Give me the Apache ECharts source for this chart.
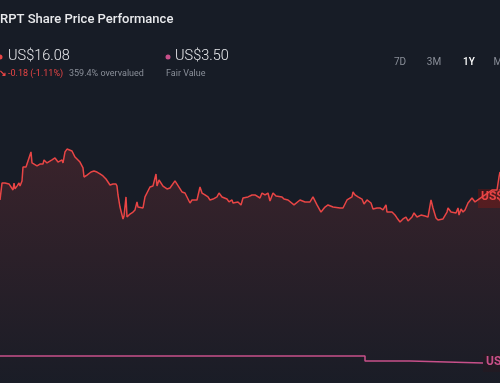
<!DOCTYPE html>
<html>
<head>
<meta charset="utf-8">
<script src="https://cdn.jsdelivr.net/npm/echarts@6/dist/echarts.min.js"></script>
<style>
html,body{margin:0;padding:0;background:#171c26;}
#c{width:500px;height:383px;}
</style>
</head>
<body>
<div id="c"></div>
<script>
// time index (relative trading time) and share price (US$)
const priceDays = [0,2,5,9,11,13,14,15,17,19,20,22,23,26,28,31,32,34,37,40,43,44,47,52,55,58,62,63,65,67,72,75,80,83,84,87,91,94,97,100,103,106,108,110,113,116,117,118,120,123,124,126,127,130,133,135,137,138,143,145,150,153,156,157,159,163,167,170,175,182,185,190,192,197,200,202,205,208,210,213,217,219,222,227,229,232,233,238,241,243,248,252,255,260,262,265,268,270,273,276,282,284,288,294,300,305,310,313,317,321,325,328,333,340,343,347,352,353,355,356,358,362,364,367,371,373,377,380,383,386,387,392,395,397,398,400,403,406,408,412,414,417,421,425,428,431,433,436,438,440,443,447,448,451,453,456,458,459,461,463,465,468,472,475,477,485,492,497,499,500];
const priceValues = [15.93,17.22,17.22,17.15,17.07,16.69,17.22,16.77,16.99,17.22,16.99,17.38,18.44,18.44,18.37,19.59,18.75,18.82,18.52,18.67,18.67,18.98,18.75,18.98,19.13,18.82,18.98,18.75,19.59,19.81,19.66,19.20,18.82,18.37,17.68,17.83,18.06,18.14,18.06,17.91,17.76,17.53,17.30,17.07,17.15,17.15,16.99,16.31,15.39,14.48,14.71,16.16,14.63,14.86,15.01,15.17,15.78,15.39,15.32,16.16,16.92,17.00,17.91,16.99,17.45,16.99,16.77,16.84,17.38,16.54,16.46,15.70,15.93,15.93,16.92,16.46,16.31,16.16,15.93,16.00,16.16,16.46,16.16,16.00,15.78,15.93,15.70,15.78,15.55,16.08,16.16,16.31,16.31,16.08,16.46,16.31,16.46,15.85,16.46,16.23,16.16,16.00,15.93,15.55,15.93,15.78,15.78,16.16,15.55,15.01,15.39,15.55,15.39,15.32,15.32,15.93,16.16,16.54,16.31,16.46,16.16,16.00,15.62,15.93,15.70,15.24,15.32,15.32,15.17,15.55,15.01,15.01,14.78,14.56,14.71,14.25,14.48,14.63,14.33,14.63,14.94,14.63,14.78,14.71,14.63,15.93,15.32,14.56,14.40,14.48,14.48,15.01,15.32,15.01,14.94,14.94,15.32,14.78,15.24,15.01,15.17,15.70,16.08,15.78,15.70,16.31,16.69,16.69,17.68,18.06];
// fair value estimate (US$)
const fairDays = [0,365,410,483];
const fairValues = [4.03,3.65,3.50,3.50];

const ticker = 'RPT';
const lastPrice = 'US$16.08';
const priceChange = '-0.18 (-1.11%)';
const valuation = '359.4% overvalued';
const fairValueText = 'US$3.50';
const periods = ['7D','3M','1Y','Max'];

const chart = echarts.init(document.getElementById('c'), null, {renderer:'canvas'});
const FONT = 'Roboto, "Noto Sans", sans-serif';
const periodX = [400,434,469,503];

const graphics = [
  {type:'text', left:0, top:13, style:{text: ticker + ' Share Price Performance', fill:'#e8e9ec', font:'500 13px ' + FONT}},
  {type:'circle', shape:{cx:0, cy:57, r:2.5}, style:{fill:'#e84545'}},
  {type:'text', left:8, top:49, style:{text:lastPrice, fill:'#e8e9ec', font:'300 14.5px ' + FONT}},
  {type:'text', left:-1, top:69, style:{text:'↘', fill:'#e84545', font:'bold 9px ' + FONT}},
  {type:'text', left:8, top:69, style:{text:priceChange, fill:'#e84545', font:'9px ' + FONT}},
  {type:'text', left:69, top:69, style:{text:valuation, fill:'#8a8f99', font:'9px ' + FONT}},
  {type:'circle', shape:{cx:168, cy:57, r:2.5}, style:{fill:'#c8508a'}},
  {type:'text', left:175, top:49, style:{text:fairValueText, fill:'#e8e9ec', font:'300 14.5px ' + FONT}},
  {type:'text', left:166, top:69, style:{text:'Fair Value', fill:'#8a8f99', font:'9px ' + FONT}},
  {type:'rect', shape:{x:478, y:189, width:30, height:19}, style:{fill:'rgba(70,22,26,0.85)'}},
  {type:'text', left:481, top:191, style:{text:lastPrice, fill:'#e84545', font:'bold 12px ' + FONT}},
  {type:'rect', shape:{x:483, y:354, width:30, height:18}, style:{fill:'#1d1922'}},
  {type:'text', left:486, top:356, style:{text:fairValueText, fill:'#c8508a', font:'bold 12px ' + FONT}}
];
periods.forEach((p,i)=>{
  graphics.push({type:'text', x:periodX[i], y:57, style:{text:p, fill: p==='1Y' ? '#ffffff' : '#8a8f99', font:(p==='1Y'?'500 ':'')+'10px ' + FONT, align:'center'}});
});

chart.setOption({
  backgroundColor:'#171c26',
  animation:false,
  grid:{left:0, right:0, top:0, bottom:0},
  xAxis:{type:'value', min:0, max:500, show:false},
  yAxis:{type:'value', min:1.98, max:31.17, show:false},
  series:[
    {
      type:'line',
      data: priceDays.map((d,i)=>[d, priceValues[i]]),
      showSymbol:false,
      lineStyle:{color:'#e84545', width:1.5},
      areaStyle:{color:new echarts.graphic.LinearGradient(0,0,0,1,[
        {offset:0, color:'rgba(232,69,69,0.24)'},
        {offset:1, color:'rgba(232,69,69,0.02)'}
      ])},
      z:2
    },
    {
      type:'line',
      step:'end',
      data: fairDays.map((d,i)=>[d, fairValues[i]]),
      showSymbol:false,
      lineStyle:{color:'#c8508a', width:1.5},
      z:3
    }
  ],
  graphic: graphics
});
</script>
</body>
</html>
